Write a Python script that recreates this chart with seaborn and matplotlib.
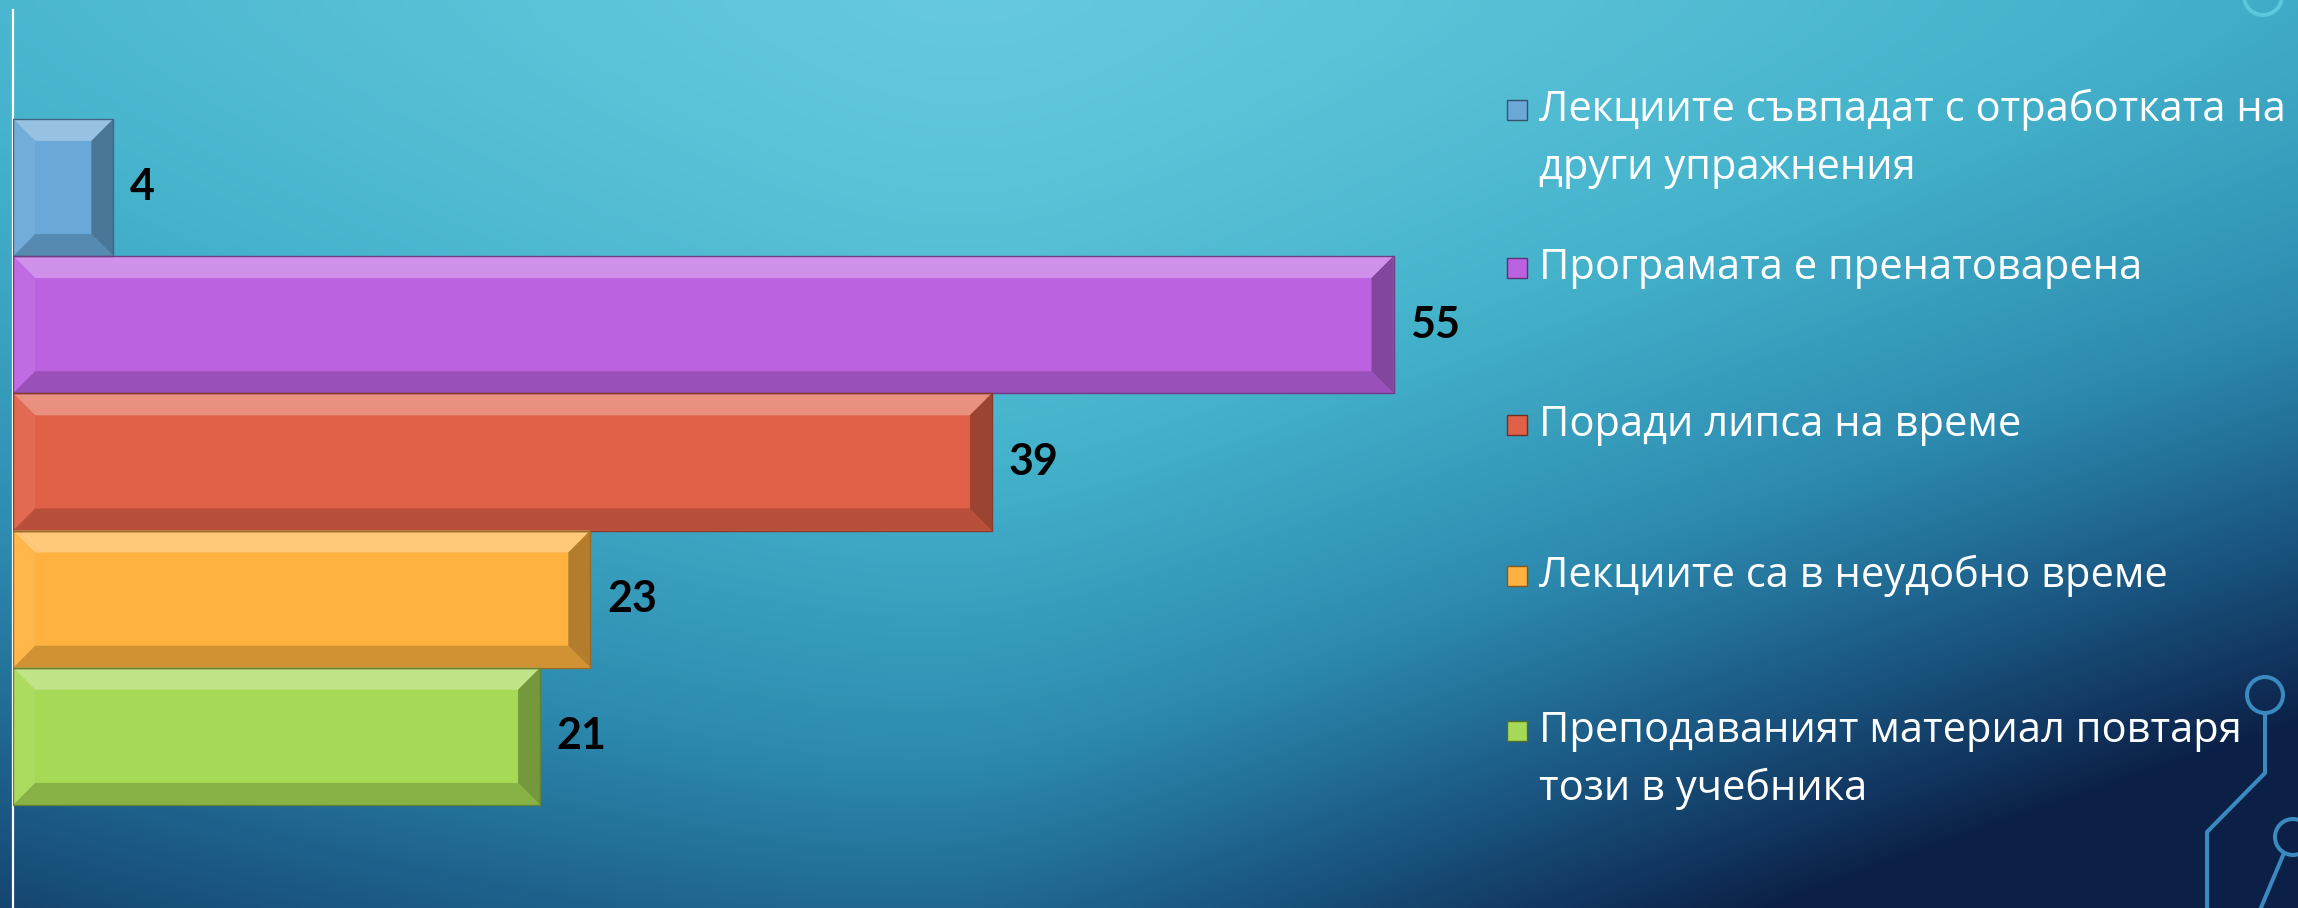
import numpy as np
import matplotlib
matplotlib.use("Agg")
import matplotlib.pyplot as plt
import seaborn as sns
import pandas as pd
from matplotlib.colors import LinearSegmentedColormap, to_rgb
from matplotlib.patches import Polygon, Rectangle, Circle

# ---------------- data ----------------
categories = [
    "Лекциите съвпадат с отработката на\nдруги упражнения",
    "Програмата е пренатоварена",
    "Поради липса на време",
    "Лекциите са в неудобно време",
    "Преподаваният материал повтаря\nтози в учебника",
]
values = [4, 55, 39, 23, 21]
colors = ["#6aa8d8", "#bb62e0", "#e06048", "#ffb240", "#a6d955"]

W, H = 2298, 908
sns.set_theme(style="white")
plt.rcParams["font.family"] = ["Open Sans", "DejaVu Sans"]

fig = plt.figure(figsize=(W / 100, H / 100), dpi=100)

# ---------------- background ----------------
bg = fig.add_axes([0, 0, 1, 1], zorder=0)
yy, xx = np.mgrid[0:1:300j, 0:1:760j]
s = 0.6 * np.sqrt((xx - 0.42) ** 2 + 0.004) + 0.58 * yy ** 1.3 + 0.3 * (xx * yy) ** 1.6
cmap = LinearSegmentedColormap.from_list(
    "bg", [(0, "#6acce0"), (0.3, "#45b3cc"), (0.55, "#2d8bb0"), (0.75, "#1b5a85"), (1, "#0b1f47")])
bg.imshow(s, cmap=cmap, vmin=0, vmax=1, aspect="auto", extent=[0, W, H, 0], interpolation="bilinear")
bg.set_xlim(0, W)
bg.set_ylim(H, 0)
bg.axis("off")

# circuit decoration
lw_d = 2.9
bg.add_patch(Circle((2263, -4), 19, fill=False, ec="#5cc8dc", lw=lw_d))
bg.add_patch(Circle((2265, 695), 18, fill=False, ec="#3a8ac0", lw=lw_d))
bg.plot([2265, 2265, 2207, 2207], [713, 773, 832, 910], color="#3a8ac0", lw=lw_d, solid_capstyle="butt")
bg.add_patch(Circle((2293, 837), 18, fill=False, ec="#3a8ac0", lw=lw_d))
bg.plot([2284, 2260], [853, 910], color="#3a8ac0", lw=lw_d)

# ---------------- bars ----------------
px_per_unit = 25.1
band_px = 137.2
ax = fig.add_axes([13 / W, 0, 60 * px_per_unit / W, 898 / H], zorder=2)
ax.patch.set_alpha(0)
df = pd.DataFrame({"cat": categories, "val": values})
sns.barplot(data=df, x="val", y="cat", hue="cat", palette=colors, orient="h",
            width=1.0, legend=False, ax=ax, saturation=1, linewidth=0)
ax.set_xlim(0, 60)
top_units = 177.5 / band_px
ax.set_ylim(-top_units + 898 / band_px, -top_units)


def mix(c, t, other):
    c = np.array(to_rgb(c))
    o = np.array(to_rgb(other))
    return tuple(c * (1 - t) + o * t)


bx = 22 / px_per_unit
by = 22 / band_px
for p, col in zip(ax.patches, colors):
    x0, y0, w, h = p.get_x(), p.get_y(), p.get_width(), p.get_height()
    x1, y1 = x0 + w, y0 + h
    polys = [
        ([(x0, y0), (x1, y0), (x1 - bx, y0 + by), (x0 + bx, y0 + by)], mix(col, 0.3, "white")),
        ([(x0, y1), (x1, y1), (x1 - bx, y1 - by), (x0 + bx, y1 - by)], mix(col, 0.18, "black")),
        ([(x1, y0), (x1, y1), (x1 - bx, y1 - by), (x1 - bx, y0 + by)], mix(col, 0.3, "black")),
        ([(x0, y0), (x0, y1), (x0 + bx, y1 - by), (x0 + bx, y0 + by)], mix(col, 0.06, "white")),
    ]
    for pts, c in polys:
        ax.add_patch(Polygon(pts, closed=True, fc=c, ec="none", zorder=3))
    ax.add_patch(Rectangle((x0, y0), w, h, fill=False, ec=mix(col, 0.4, "black"), lw=1, zorder=4))

for cont in ax.containers:
    ax.bar_label(cont, padding=12, fontsize=31, fontweight="bold", color="black",
                 family=["Lato", "DejaVu Sans"])

ax.set_xticks([])
ax.set_yticks([])
ax.set_xlabel("")
ax.set_ylabel("")
for side in ["top", "right", "bottom"]:
    ax.spines[side].set_visible(False)
ax.spines["left"].set_color("white")
ax.spines["left"].set_linewidth(1.6)

# ---------------- legend ----------------
first_line_y = [110, 268, 425, 576, 731]
line_gap = 58
for cat, col, yl in zip(categories, colors, first_line_y):
    bg.add_patch(Rectangle((1507, yl - 10), 20, 20, fc=col, ec=mix(col, 0.5, "black"), lw=1, zorder=3))
    for k, line in enumerate(cat.split("\n")):
        bg.text(1539, yl + k * line_gap, line, color="white", fontsize=30,
                va="center", ha="left", zorder=3)

fig.savefig("out.png", dpi=100)
